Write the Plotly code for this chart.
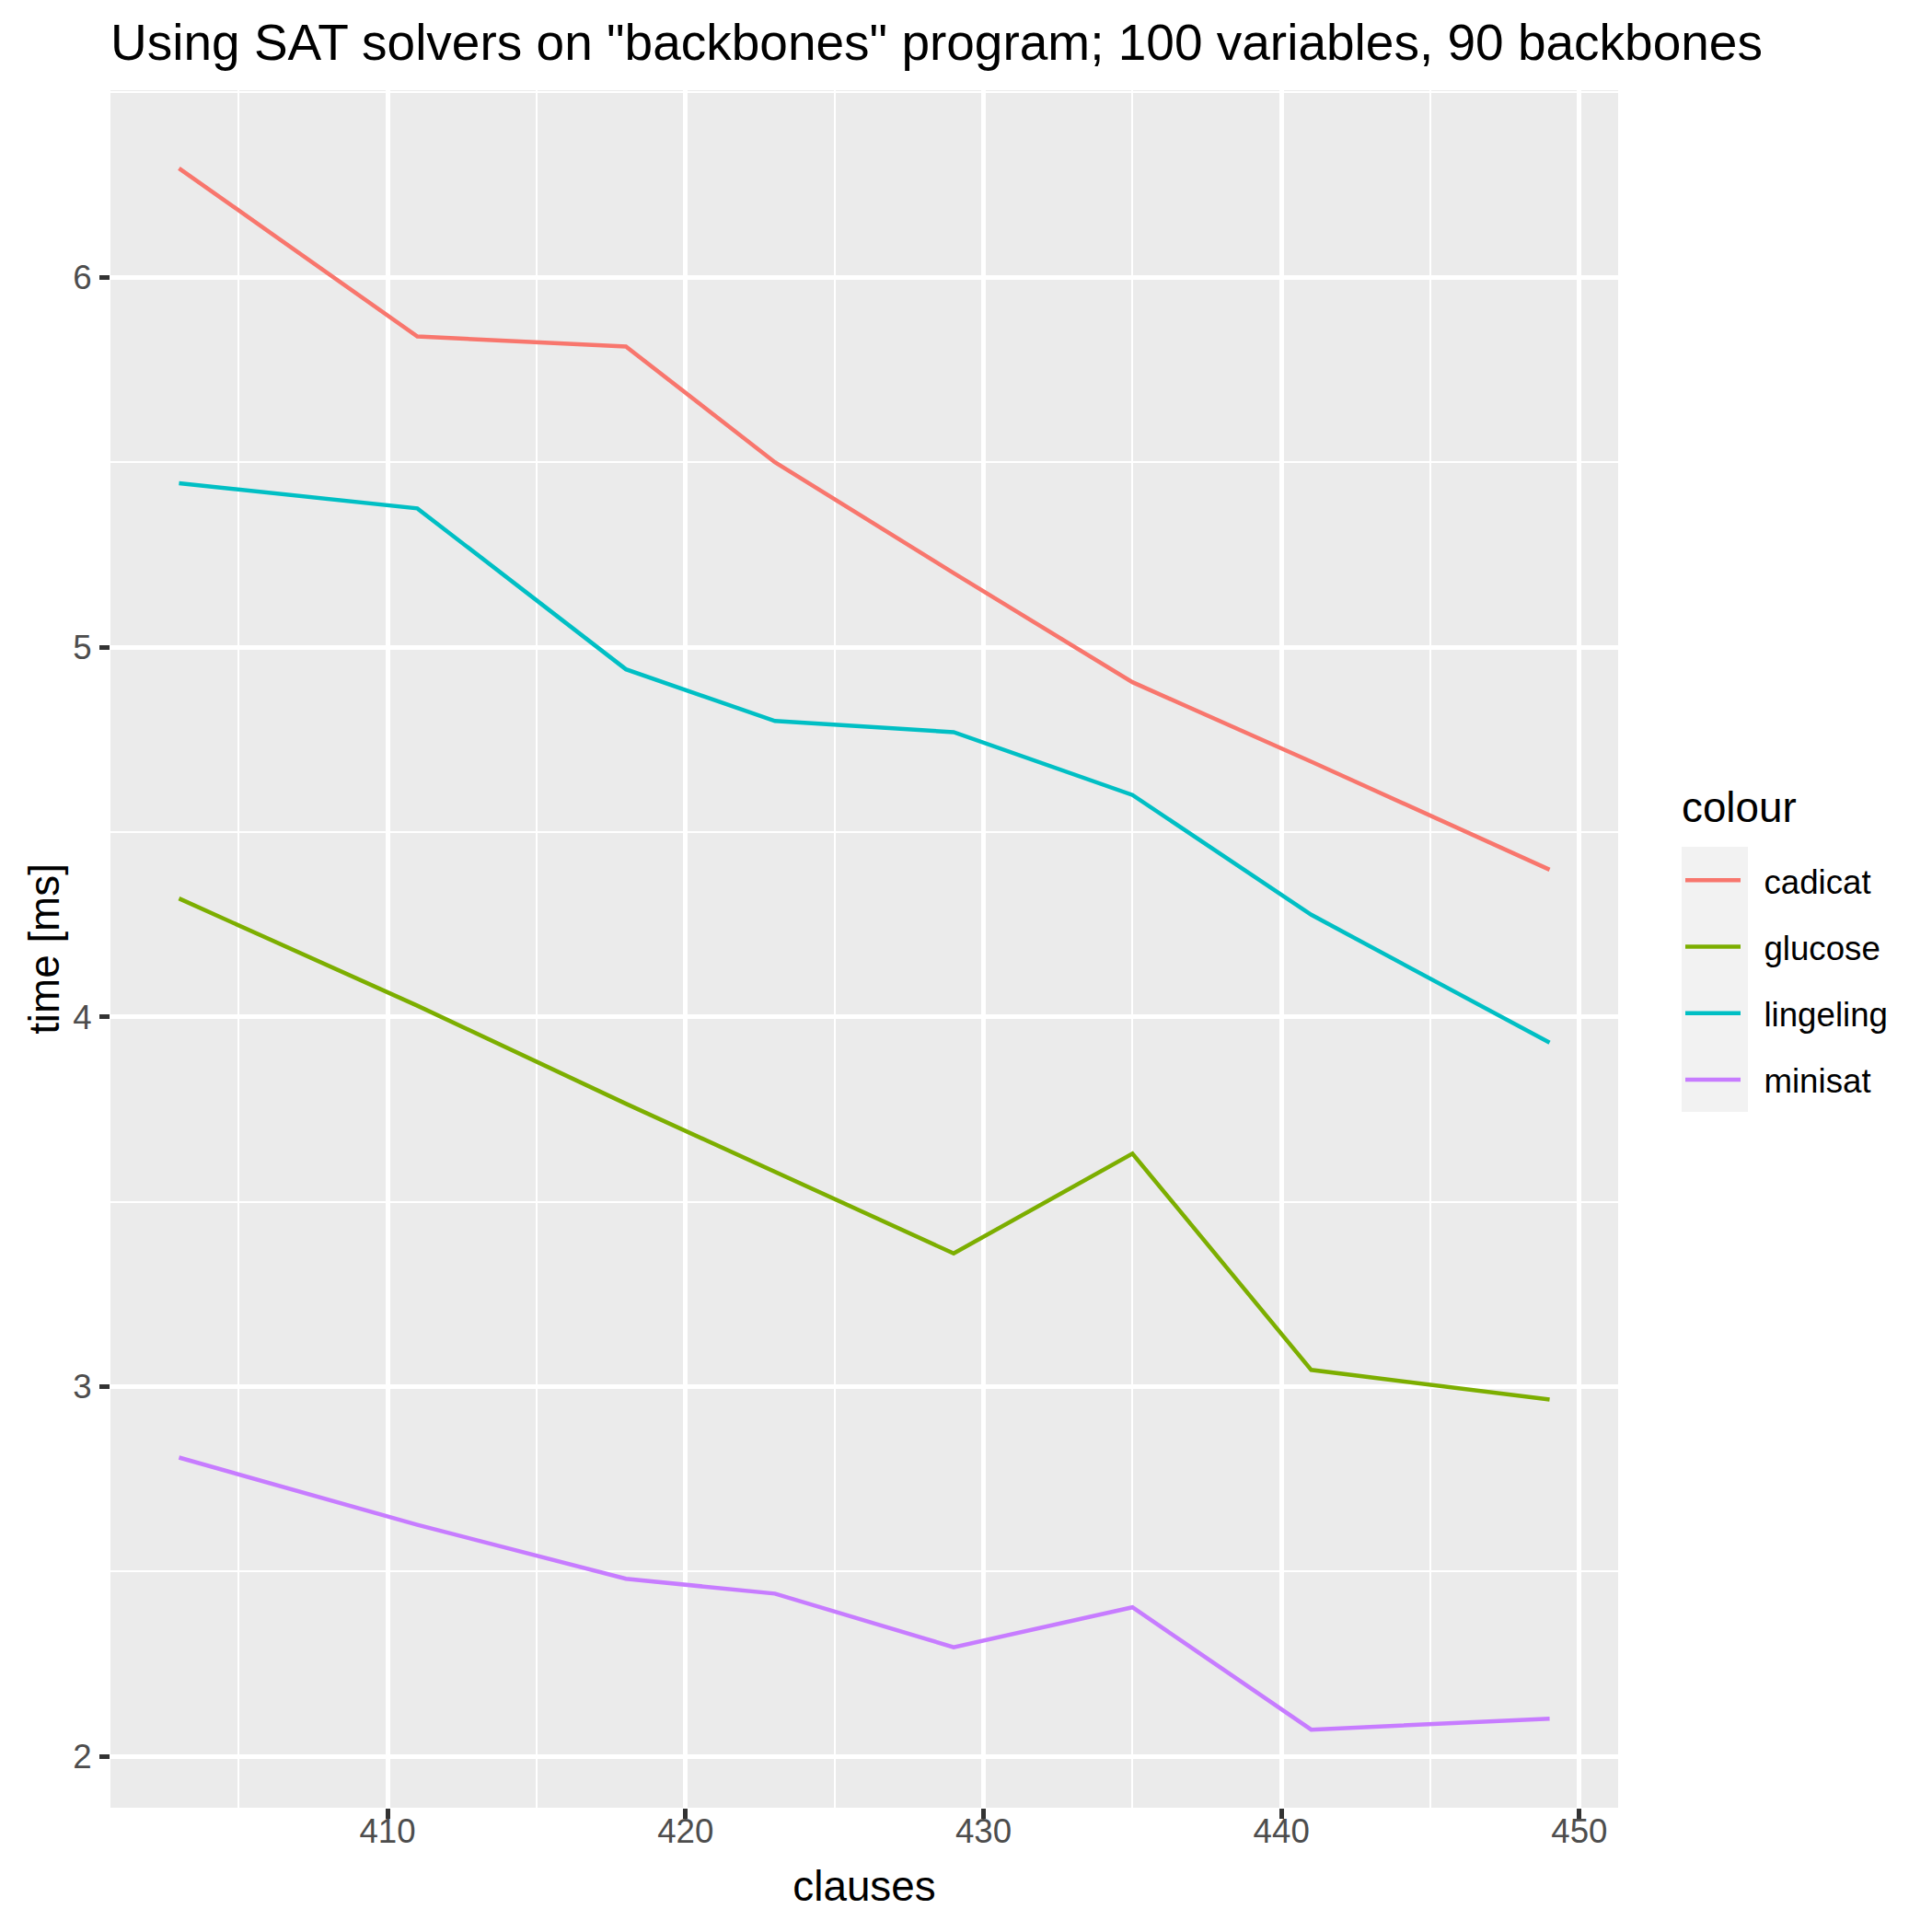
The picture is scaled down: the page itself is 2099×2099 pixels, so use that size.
import numpy as np
import plotly.graph_objects as go

# data
clauses = [403, 411, 418, 423, 429, 435, 441, 449]

cadicat = [6.295, 5.84, 5.813, 5.50, 5.20, 4.905, 4.69, 4.398]
glucose = [4.32, 4.03, 3.765, 3.58, 3.36, 3.63, 3.045, 2.965]
lingeling = [5.443, 5.375, 4.94, 4.80, 4.77, 4.60, 4.276, 3.93]
minisat = [2.808, 2.626, 2.48, 2.44, 2.295, 2.403, 2.072, 2.102]

solvers = ["cadicat", "glucose", "lingeling", "minisat"]
series = [cadicat, glucose, lingeling, minisat]
colours = ["#F8766D", "#7CAE00", "#00BFC4", "#C77CFF"]

x_ticks = [410, 420, 430, 440, 450]
y_ticks = [2, 3, 4, 5, 6]

W = H = 2099
ML, MR, MT, MB = 120, 341, 98, 135
PW, PH = W - ML - MR, H - MT - MB


def expand(vals, f=0.05):
    lo, hi = float(np.min(vals)), float(np.max(vals))
    pad = (hi - lo) * f
    return [lo - pad, hi + pad]


def px_x(p):
    return (p - ML) / PW


def px_y(p):
    return 1 - (p - MT) / PH


x_range = expand(clauses)
y_range = expand(np.concatenate([np.array(s) for s in series]))

fig = go.Figure()
for name, ys, col in zip(solvers, series, colours):
    fig.add_trace(go.Scatter(
        x=clauses, y=ys, mode="lines",
        name="\u00a0\u00a0" + name, legendgroup=name,
        line=dict(color=col, width=4.5),
    ))

axis_common = dict(
    showgrid=True, gridcolor="white", gridwidth=4.5,
    zeroline=False, showline=False,
    ticks="outside", ticklen=11, tickwidth=4.5, tickcolor="#333333",
    tickfont=dict(family="Liberation Sans", size=36.7, color="#4D4D4D"),
)

fig.update_xaxes(
    range=x_range, tickvals=x_ticks,
    minor=dict(dtick=5, tick0=405, showgrid=True, gridcolor="white", gridwidth=2.2, ticks=""),
    title=dict(text="clauses", font=dict(family="Liberation Sans", size=45.8, color="black"), standoff=23),
    ticklabelstandoff=-18,
    **axis_common,
)
fig.update_yaxes(
    range=y_range, tickvals=y_ticks,
    minor=dict(dtick=0.5, tick0=2.5, showgrid=True, gridcolor="white", gridwidth=2.2, ticks=""),
    title=dict(text="time [ms]", font=dict(family="Liberation Sans", size=45.8, color="black"), standoff=0),
    ticklabelstandoff=1,
    **axis_common,
)

# grey background behind the legend keys, like ggplot's legend.key
fig.add_shape(
    type="rect", xref="paper", yref="paper", layer="below",
    x0=px_x(1827), x1=px_x(1899), y0=px_y(1208), y1=px_y(920),
    fillcolor="#F2F2F2", line=dict(width=0),
)

# legend title
fig.add_annotation(
    text="colour", xref="paper", yref="paper", showarrow=False,
    x=px_x(1825), xanchor="left", y=px_y(877), yanchor="middle",
    font=dict(family="Liberation Sans", size=45.8, color="black"),
)

fig.update_layout(
    width=W, height=H,
    margin=dict(l=ML, r=MR, t=MT, b=MB),
    paper_bgcolor="white", plot_bgcolor="#EBEBEB",
    font=dict(family="Liberation Sans", color="black"),
    title=dict(
        text='Using SAT solvers on "backbones" program; 100 variables, 90 backbones',
        font=dict(family="Liberation Sans", size=55, color="black"),
        x=ML / W, xanchor="left", xref="container",
        y=1 - 46 / H, yanchor="middle", yref="container",
    ),
    legend=dict(
        font=dict(family="Liberation Sans", size=36.7, color="black"),
        x=px_x(1826), xanchor="left",
        y=px_y(926), yanchor="top",
        bgcolor="rgba(0,0,0,0)", itemwidth=60, tracegroupgap=21.5,
    ),
    showlegend=True,
)

fig.write_html("out.html", config={"displayModeBar": False},
               post_script="document.body.style.margin='0';")
